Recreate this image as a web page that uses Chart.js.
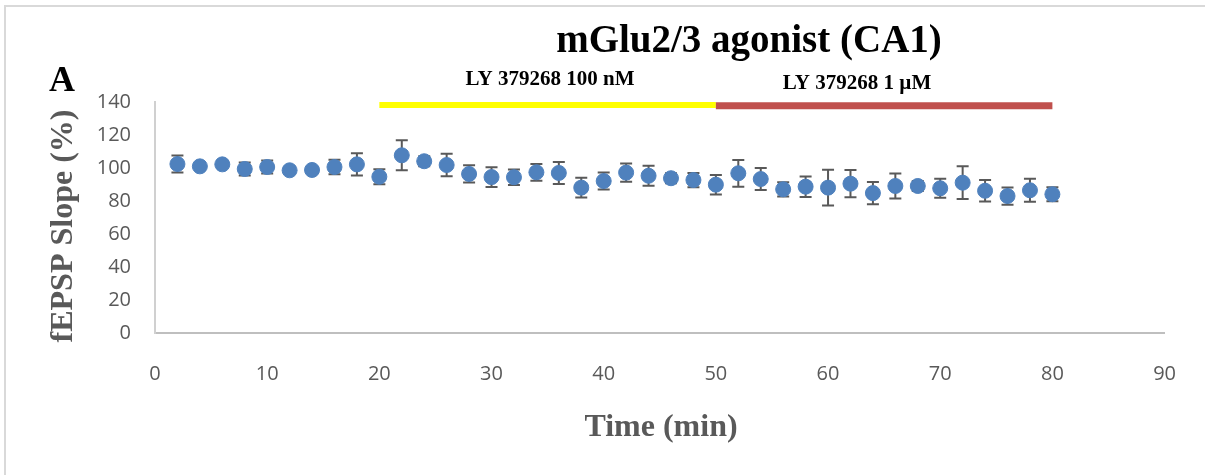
<!DOCTYPE html>
<html>
<head>
<meta charset="utf-8">
<script src="https://cdn.jsdelivr.net/npm/chart.js@4"></script>
<style>
html,body{margin:0;padding:0;background:#fff;}
#wrap{position:relative;width:1205px;height:475px;}
</style>
</head>
<body>
<div id="wrap"><canvas id="c" width="1205" height="475"></canvas></div>
<script>
const chartTitle = "mGlu2/3 agonist (CA1)";
const panelLabel = "A";
const xAxisTitle = "Time (min)";
const yAxisTitle = "fEPSP Slope (%)";
const times = [2,4,6,8,10,12,14,16,18,20,22,24,26,28,30,32,34,36,38,40,42,44,46,48,50,52,54,56,58,60,62,64,66,68,70,72,74,76,78,80];
const slope = [102.4,101.0,102.2,99.4,100.6,98.6,98.8,100.6,102.2,94.7,107.7,104.1,101.8,96.4,94.5,94.4,97.4,97.0,88.1,92.1,97.2,95.3,93.8,92.7,89.9,96.8,93.3,87.1,88.7,88.1,90.5,84.8,89.1,89.1,87.7,91.1,86.2,83.0,86.5,84.1];
const sem = [5.2,2,2,4.0,4.0,2,2,4.4,6.7,4.5,9.1,3,6.8,5.2,6.0,4.7,5.1,6.7,6.0,5.2,5.5,6.1,3,4.3,5.9,8.1,6.7,4.3,6.2,10.8,8.3,6.7,7.6,3,5.8,9.9,6.5,5.2,7.0,4.2];
const drugLabels = ["LY 379268 100 nM", "LY 379268 1 \u00b5M"];
const drugStart = [20, 50];
const drugEnd = [50, 80];
const drugBarLevel = [138.5, 137.8];
const xTicks = [0,10,20,30,40,50,60,70,80,90];
const yTicks = [0,20,40,60,80,100,120,140];

const points = times.map((t,i)=>({x:t,y:slope[i]}));

const errorBars = {
  id:'errorBars',
  beforeDatasetsDraw(chart){
    const ctx = chart.ctx, xs = chart.scales.x, ys = chart.scales.y;
    ctx.save();
    ctx.strokeStyle = '#595959';
    ctx.lineWidth = 2;
    times.forEach((t,i)=>{
      const px = xs.getPixelForValue(t);
      const top = ys.getPixelForValue(slope[i]+sem[i]);
      const bot = ys.getPixelForValue(slope[i]-sem[i]);
      ctx.beginPath();
      ctx.moveTo(px,top); ctx.lineTo(px,bot);
      ctx.moveTo(px-6,top); ctx.lineTo(px+6,top);
      ctx.moveTo(px-6,bot); ctx.lineTo(px+6,bot);
      ctx.stroke();
    });
    ctx.restore();
  }
};

const decor = {
  id:'decor',
  beforeDraw(chart){
    const ctx = chart.ctx;
    ctx.save();
    ctx.strokeStyle = '#d9d9d9';
    ctx.lineWidth = 2;
    ctx.beginPath();
    ctx.moveTo(5,475); ctx.lineTo(5,6); ctx.lineTo(1205,6);
    ctx.stroke();
    ctx.restore();
  },
  afterDraw(chart){
    const ctx = chart.ctx;
    ctx.save();
    ctx.fillStyle = '#000';
    ctx.textBaseline = 'alphabetic';
    ctx.textAlign = 'center';
    ctx.font = 'bold 39px "Liberation Serif"';
    ctx.fillText(chartTitle, 749, 52);
    ctx.textAlign = 'left';
    ctx.font = 'bold 36px "Liberation Serif"';
    ctx.fillText(panelLabel, 49, 91);
    ctx.font = 'bold 21px "Liberation Serif"';
    ctx.textAlign = 'center';
    ctx.fillText(drugLabels[0], 550, 85, 176);
    ctx.fillText(drugLabels[1], 857, 89, 154);
    ctx.fillStyle = '#595959';
    ctx.font = 'bold 32px "Liberation Serif"';
    ctx.fillText(xAxisTitle, 661, 436);
    ctx.translate(72, 226);
    ctx.rotate(-Math.PI/2);
    ctx.fillText(yAxisTitle, 0, 0);
    ctx.restore();
  }
};

new Chart(document.getElementById('c'), {
  type:'scatter',
  data:{
    datasets:[
      {data:points, backgroundColor:'#4F81BD', borderColor:'#4F81BD', pointRadius:7.5, pointHoverRadius:7.5, showLine:false, order:1},
      {type:'line', data:[{x:drugStart[0],y:drugBarLevel[0]},{x:drugEnd[0],y:drugBarLevel[0]}], borderColor:'#FFFF00', borderWidth:7, pointRadius:0, borderCapStyle:'butt', order:3},
      {type:'line', data:[{x:drugStart[1],y:drugBarLevel[1]},{x:drugEnd[1],y:drugBarLevel[1]}], borderColor:'#C0504D', borderWidth:7, pointRadius:0, borderCapStyle:'butt', order:2}
    ]
  },
  options:{
    responsive:false,
    animation:false,
    events:[],
    layout:{padding:{top:102,right:38,left:0,bottom:82}},
    plugins:{legend:{display:false},title:{display:false},tooltip:{enabled:false}},
    scales:{
      x:{
        type:'linear', min:0, max:90,
        afterBuildTicks(s){ s.ticks = xTicks.map(v=>({value:v})); },
        afterFit(s){ s.height = 60; },
        grid:{display:true, drawOnChartArea:false, drawTicks:false, color:'#bfbfbf'},
        border:{display:true, color:'#bfbfbf', width:2},
        ticks:{color:'#595959', padding:29, font:{family:'"Open Sans"', size:20}, maxRotation:0}
      },
      y:{
        type:'linear', min:0, max:140,
        afterBuildTicks(s){ s.ticks = yTicks.map(v=>({value:v})); },
        afterFit(s){ s.width = 155; },
        grid:{display:true, drawOnChartArea:false, drawTicks:false, color:'#d0d0d0'},
        border:{display:true, color:'#d0d0d0', width:2},
        ticks:{color:'#595959', padding:24, font:{family:'"Open Sans"', size:20}}
      }
    }
  },
  plugins:[errorBars, decor]
});
</script>
</body>
</html>
